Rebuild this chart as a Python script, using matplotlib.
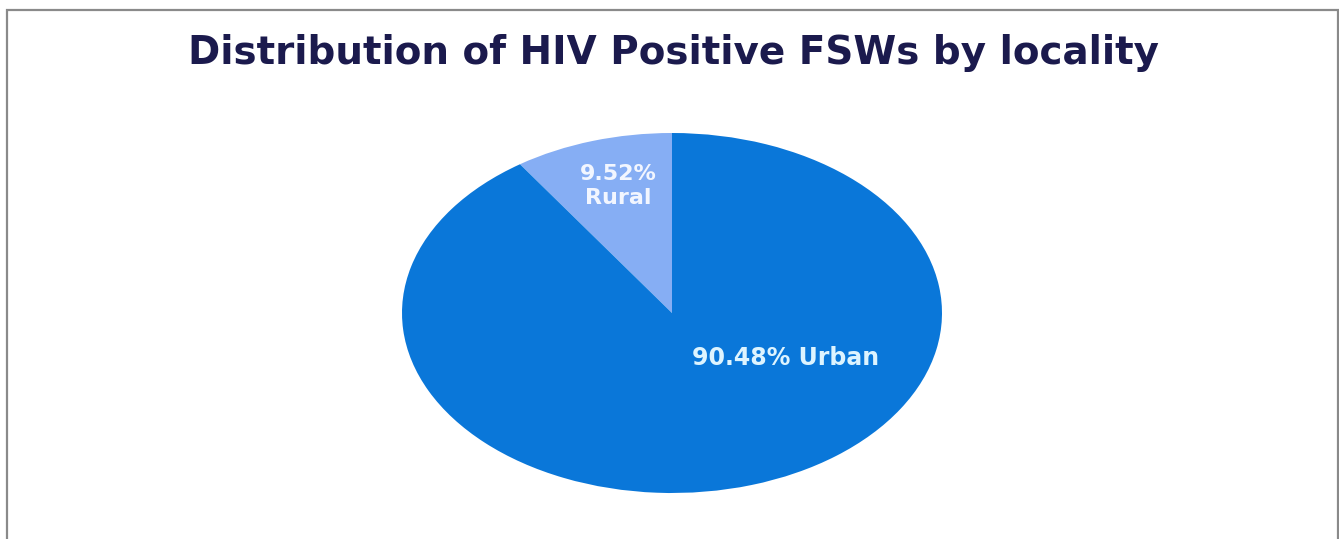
import matplotlib
matplotlib.use("Agg")
import matplotlib.pyplot as plt
from matplotlib.patches import Rectangle

categories = ["Rural", "Urban"]
values = [9.52, 90.48]
colors = ["#86AEF4", "#0A77D9"]
title = "Distribution of HIV Positive FSWs by locality"

W, H = 1339, 539
fig = plt.figure(figsize=(W / 100, H / 100), dpi=100)
fig.patch.set_facecolor("white")

# frame
fig.add_artist(Rectangle((7 / W, -0.05), (1338 - 7) / W, (H - 10) / H + 0.05,
                         transform=fig.transFigure, fill=False,
                         edgecolor="#8a8a8a", linewidth=1.6))

fig.text(674 / W, 1 - 53 / H, title, ha="center", va="center",
         fontsize=28, fontweight="bold", color="#1b1a4d", family="DejaVu Sans")

cx, cy, rx, ry = 672, 313, 270, 180
ax = fig.add_axes([(cx - rx) / W, (H - cy - ry) / H, 2 * rx / W, 2 * ry / H])
ax.pie(values, colors=colors, startangle=90, counterclock=True,
       wedgeprops=dict(linewidth=0))
ax.set_aspect("auto")
ax.set_xlim(-1, 1)
ax.set_ylim(-1, 1)
ax.axis("off")

ax.text(-0.20, 0.705, f"{values[0]:.2f}%\n{categories[0]}", ha="center", va="center",
        fontsize=16, fontweight="bold", color="#F2F6FF", linespacing=1.2)
ax.text(0.42, -0.25, f"{values[1]:.2f}% {categories[1]}", ha="center", va="center",
        fontsize=17, fontweight="bold", color="#DDF4FF")

fig.savefig("out.png", dpi=100)
